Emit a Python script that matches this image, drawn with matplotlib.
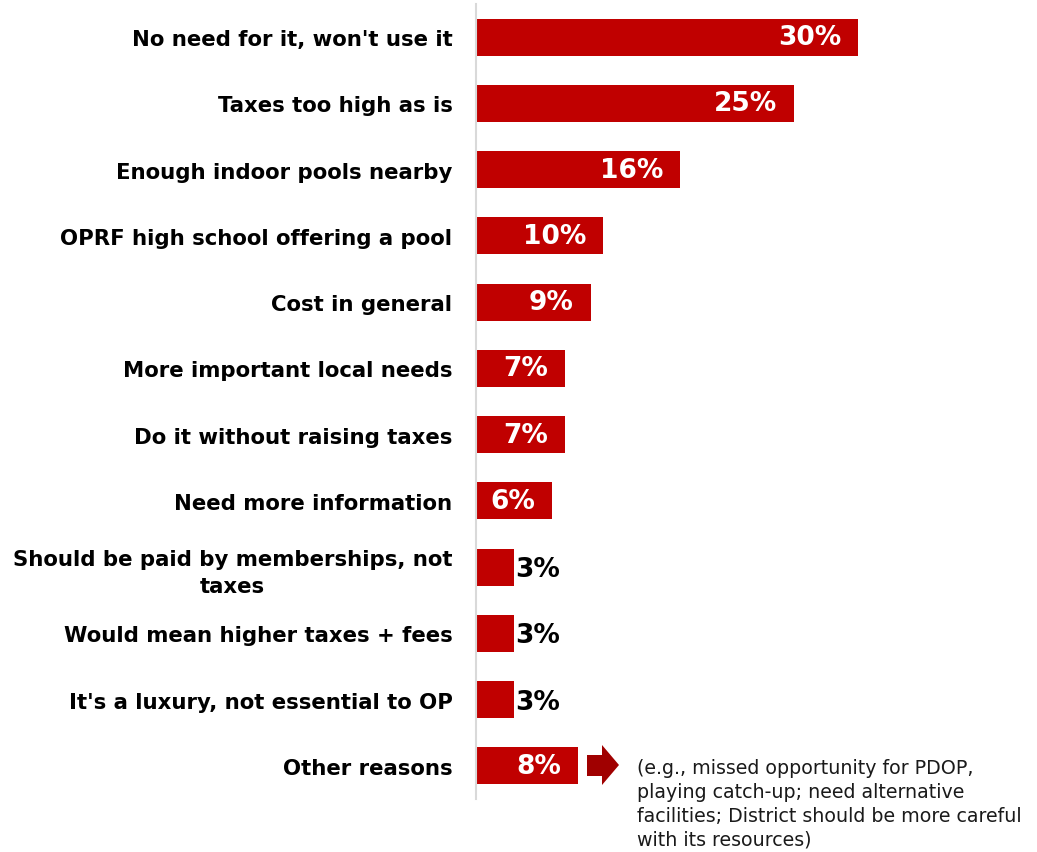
import matplotlib
matplotlib.use("Agg")
import matplotlib.pyplot as plt
from matplotlib.patches import Polygon

categories = [
    "No need for it, won't use it",
    "Taxes too high as is",
    "Enough indoor pools nearby",
    "OPRF high school offering a pool",
    "Cost in general",
    "More important local needs",
    "Do it without raising taxes",
    "Need more information",
    "Should be paid by memberships, not\ntaxes",
    "Would mean higher taxes + fees",
    "It's a luxury, not essential to OP",
    "Other reasons",
]
values = [30, 25, 16, 10, 9, 7, 7, 6, 3, 3, 3, 8]
value_labels = ["30%", "25%", "16%", "10%", "9%", "7%", "7%", "6%", "3%", "3%", "3%", "8%"]
note_text = ("(e.g., missed opportunity for PDOP,\n"
             "playing catch-up; need alternative\n"
             "facilities; District should be more careful\n"
             "with its resources)")

BAR_RED = "#C00000"
ARROW_RED = "#A00000"

W, H = 1037, 853
fig = plt.figure(figsize=(W / 100, H / 100), dpi=100)
fig.patch.set_facecolor("white")

# axes: left edge at x=476px, spans 40 units at ~12.73 px per unit
ax_left, ax_top, ax_bottom = 476, 5, 800
ax_width_px = 40 * 12.73
ax = fig.add_axes([ax_left / W, 1 - ax_bottom / H, ax_width_px / W, (ax_bottom - ax_top) / H])

ypos = list(range(len(categories)))
ax.barh(ypos, values, height=0.56, color=BAR_RED, zorder=2)
ax.set_xlim(0, 40)
ax.set_ylim(len(categories) - 0.5, -0.5)

for s in ["top", "right", "bottom"]:
    ax.spines[s].set_visible(False)
ax.spines["left"].set_color("#D9D9D9")
ax.spines["left"].set_linewidth(1.5)
ax.set_xticks([])
ax.set_yticks(ypos)
ax.set_yticklabels(categories, fontsize=15.3, fontweight="bold", color="black",
                   multialignment="center")
for t in ax.get_yticklabels():
    t.set_linespacing(1.45)
ax.tick_params(axis="y", length=0, pad=17)

for y, v, lab in zip(ypos, values, value_labels):
    if v >= 5:
        ax.annotate(lab, xy=(v, y), xytext=(-12, 0), textcoords="offset points",
                    ha="right", va="center", color="white", fontsize=19,
                    fontweight="bold")
    else:
        ax.annotate(lab, xy=(v, y), xytext=(0.5, -1.5), textcoords="offset points",
                    ha="left", va="center", color="black", fontsize=19,
                    fontweight="bold")

# block arrow pointing to the note (figure pixel coordinates)
pts = [(587, 756), (602, 756), (602, 746), (619, 766), (602, 786), (602, 777), (587, 777)]
arrow = Polygon([(x / W, 1 - y / H) for x, y in pts], closed=True,
                facecolor=ARROW_RED, edgecolor="none", transform=fig.transFigure)
fig.patches.append(arrow)

fig.text(637 / W, 1 - 759 / H, note_text, ha="left", va="top", fontsize=13.7,
         color="#1a1a1a", linespacing=1.33)

fig.savefig("out.png", dpi=100, facecolor="white")
